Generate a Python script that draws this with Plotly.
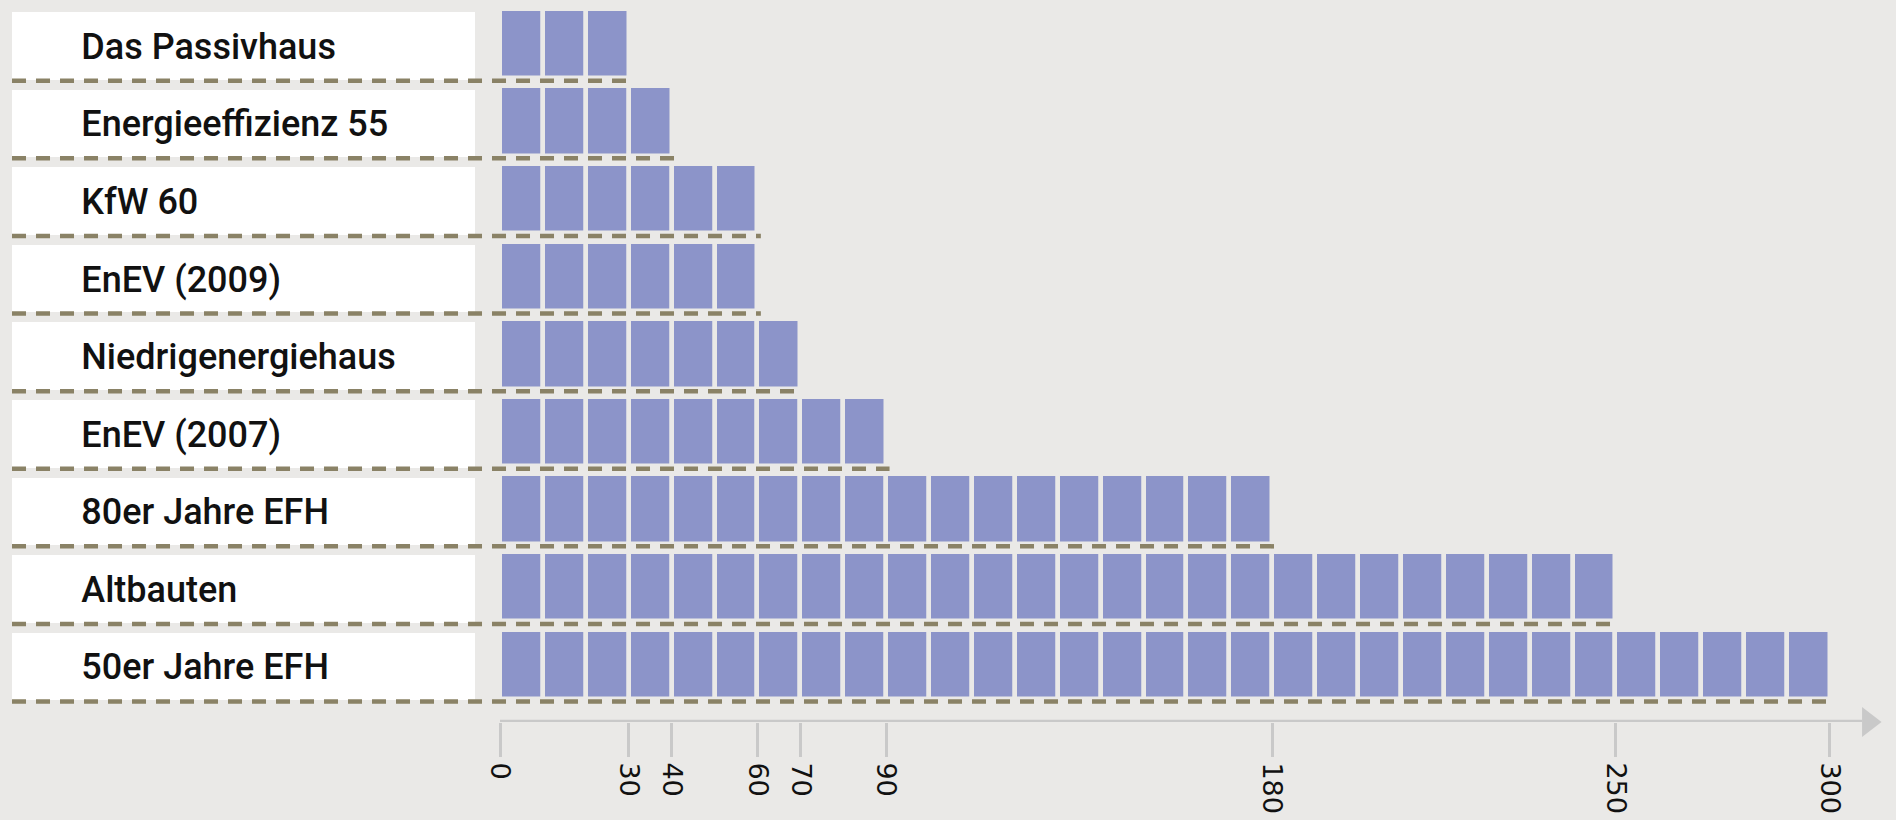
import plotly.graph_objects as go

# --- data ---
categories = ["Das Passivhaus", "Energieeffizienz 55", "KfW 60", "EnEV (2009)",
              "Niedrigenergiehaus", "EnEV (2007)", "80er Jahre EFH", "Altbauten",
              "50er Jahre EFH"]
blocks = [3, 4, 6, 6, 7, 9, 18, 26, 31]          # number of squares drawn per row
tick_pos = [0, 3, 4, 6, 7, 9, 18, 26, 31]         # axis tick positions (in squares)
tick_text = ["0", "30", "40", "60", "70", "90", "180", "250", "300"]

BG = "#eae9e7"
BAR = "#8c94c9"
DASH = "#8a8266"
AXIS = "#c9c9c9"

rows = list(range(len(categories)))
y_bottom = 8.744
box_left, box_right = -11.375, -0.583

fig = go.Figure()

# white label boxes
fig.add_trace(go.Bar(
    y=[r + 0.03 for r in rows], x=[box_right - box_left] * len(rows), base=box_left,
    orientation="h", width=0.87, marker=dict(color="white", line_width=0),
    hoverinfo="skip", showlegend=False))

# label text
fig.add_trace(go.Scatter(
    y=[r + 0.08 for r in rows], x=[-9.76] * len(rows), mode="text", text=categories,
    textposition="middle right",
    textfont=dict(family="Roboto, sans-serif", size=36, color="#111", weight=500),
    hoverinfo="skip", showlegend=False))

# squares (one 1-unit bar per square)
by, bx, bb = [], [], []
for i, n in enumerate(blocks):
    for k in range(n):
        by.append(i)
        bx.append(1)
        bb.append(k)
fig.add_trace(go.Bar(
    y=by, x=bx, base=bb, orientation="h", width=0.895,
    marker=dict(color=BAR, line=dict(color=BG, width=4.5)),
    hoverinfo="skip", showlegend=False))

# dashed separators under each row
for i, n in enumerate(blocks):
    fig.add_trace(go.Scatter(
        x=[box_left, n + 0.08], y=[i + 0.48, i + 0.48], mode="lines",
        line=dict(color=DASH, width=4.5, dash="14px,10px"),
        hoverinfo="skip", showlegend=False, cliponaxis=False))

# axis line with arrow
fig.add_trace(go.Scatter(
    x=[0, 31.75], y=[y_bottom, y_bottom], mode="lines",
    line=dict(color=AXIS, width=4.5), cliponaxis=False,
    hoverinfo="skip", showlegend=False))
fig.add_trace(go.Scatter(
    x=[31.9], y=[y_bottom], mode="markers",
    marker=dict(symbol="triangle-right", size=26, color=AXIS),
    cliponaxis=False, hoverinfo="skip", showlegend=False))

fig.update_layout(
    width=1896, height=820,
    margin=dict(l=0, r=0, t=0, b=98),
    paper_bgcolor=BG, plot_bgcolor=BG,
    barmode="overlay", bargap=0,
    xaxis=dict(range=[-11.655, 32.54], tickvals=tick_pos, ticktext=tick_text,
               ticks="outside", ticklen=34, tickwidth=3, tickcolor=AXIS,
               tickangle=90, tickfont=dict(family="DejaVu Sans", size=27, color="#111"),
               showgrid=False, zeroline=False, showline=False),
    yaxis=dict(range=[y_bottom, -0.5606], showticklabels=False, showgrid=False,
               zeroline=False, showline=False, ticks=""),
)

fig.write_html("out.html", config={"displayModeBar": False},
               post_script="document.body.style.margin='0';"
                           "document.body.style.background='" + BG + "';")
